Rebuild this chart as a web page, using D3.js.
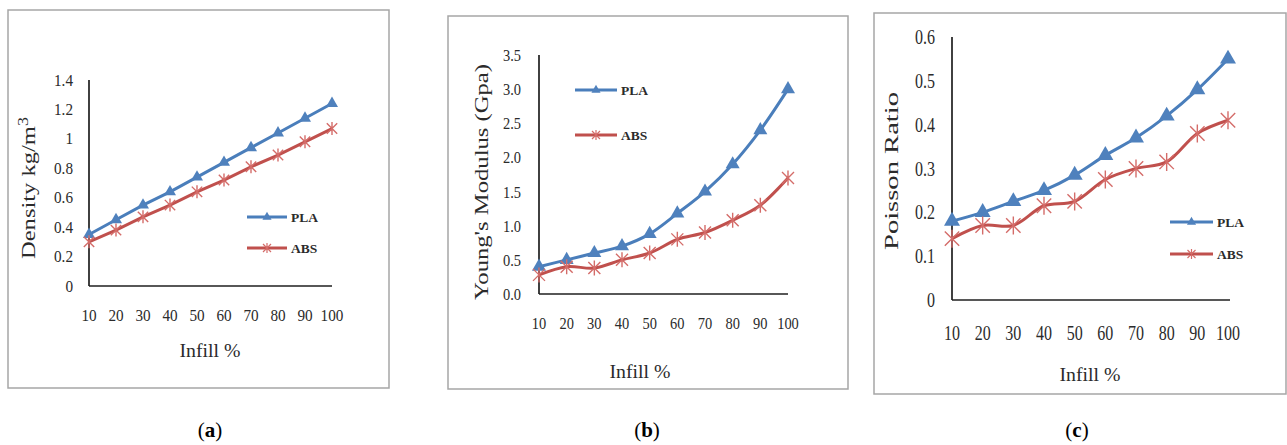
<!DOCTYPE html>
<html>
<head>
<meta charset="utf-8">
<script src="https://cdn.jsdelivr.net/npm/d3@7"></script>
<style>
  html, body { margin: 0; padding: 0; background: #fff; }
  svg { display: block; }
  text { font-family: "Liberation Serif", "DejaVu Serif", serif; fill: #2b2b2b; }
</style>
</head>
<body>
<svg id="fig" width="1287" height="445"></svg>
<script>
// Infill percentage categories shared by all three panels
const infill = ["10", "20", "30", "40", "50", "60", "70", "80", "90", "100"];

// (a) Density
const densityPLA = [0.35, 0.45, 0.55, 0.64, 0.74, 0.84, 0.94, 1.04, 1.14, 1.24];
const densityABS = [0.30, 0.38, 0.47, 0.55, 0.64, 0.72, 0.81, 0.89, 0.98, 1.07];
const densityTicks = [0, 0.2, 0.4, 0.6, 0.8, 1, 1.2, 1.4];

// (b) Young's modulus
const youngPLA = [0.40, 0.50, 0.60, 0.70, 0.88, 1.18, 1.50, 1.90, 2.40, 3.00];
const youngABS = [0.28, 0.40, 0.38, 0.50, 0.60, 0.80, 0.90, 1.08, 1.30, 1.70];
const youngTicks = [0, 0.5, 1.0, 1.5, 2.0, 2.5, 3.0, 3.5];

// (c) Poisson ratio
const poissonPLA = [0.18, 0.20, 0.225, 0.25, 0.285, 0.33, 0.37, 0.42, 0.48, 0.55];
const poissonABS = [0.14, 0.17, 0.17, 0.215, 0.225, 0.275, 0.30, 0.315, 0.38, 0.41];
const poissonTicks = [0, 0.1, 0.2, 0.3, 0.4, 0.5, 0.6];

const seriesNames = ["PLA", "ABS"];
const captions = ["a", "b", "c"];

const BLUE = "#4A7EBB", BLUE_FILL = "#4F81BD";
const RED = "#C0504D", RED_MARK = "#D46C69";

const svg = d3.select("#fig");

const panels = [
  {
    box: [8, 10, 389, 388],
    xRange: [89, 332], yRange: [286, 80], axisRight: 332,
    domain: [0, 1.4], ticks: densityTicks, fmt: d3.format("~g"),
    pla: densityPLA, abs: densityABS,
    yTitle: "Density kg/m", ySup: "3", yTitleX: 35, yTitleY: 188, yTitleLen: 142,
    tickRight: 73, tickSize: 16, tickSX: 0.95, xLabelY: 315, xTitle: [210, 357],
    legend: { x0: 247, x1: 287, y: 217, gap: 31 },
    tri: 12, star: 13, curve: d3.curveLinear, caption: [210, 430]
  },
  {
    box: [448, 16, 848, 389],
    xRange: [539, 788], yRange: [294, 55], axisRight: 788,
    domain: [0, 3.5], ticks: youngTicks, fmt: d3.format(".1f"),
    pla: youngPLA, abs: youngABS,
    yTitle: "Young's Modulus (Gpa)", yTitleX: 488, yTitleY: 182, yTitleLen: 236,
    tickRight: 521, tickSize: 17, tickSX: 0.85, xLabelY: 323, xTitle: [640, 378],
    legend: { x0: 575, x1: 617, y: 90, gap: 45 },
    tri: 14, star: 15, curve: d3.curveCatmullRom, caption: [647, 430]
  },
  {
    box: [874, 13, 1286, 394],
    xRange: [952, 1228], yRange: [300, 37], axisRight: 1230,
    domain: [0, 0.6], ticks: poissonTicks, fmt: d3.format("~g"),
    pla: poissonPLA, abs: poissonABS,
    yTitle: "Poisson Ratio", yTitleX: 898, yTitleY: 171, yTitleLen: 158,
    tickRight: 935, tickSize: 20, tickSX: 0.8, xLabelY: 333, xTitle: [1090, 381],
    legend: { x0: 1170, x1: 1213, y: 222, gap: 32 },
    tri: 16, star: 18, curve: d3.curveCatmullRom, caption: [1077, 430]
  }
];

// Asterisk marker: an X crossed by a vertical stroke
function starPath(s) {
  const h = s / 2, d = h * 0.8;
  return `M${-d},${-d}L${d},${d}M${-d},${d}L${d},${-d}M0,${-h}L0,${h}`;
}

panels.forEach((p, i) => {
  const g = svg.append("g");

  // outer chart frame
  g.append("rect")
    .attr("x", p.box[0]).attr("y", p.box[1])
    .attr("width", p.box[2] - p.box[0]).attr("height", p.box[3] - p.box[1])
    .attr("fill", "#fff").attr("stroke", "#a6a6a6").attr("stroke-width", 1.5);

  const x = d3.scalePoint().domain(infill).range(p.xRange);
  const y = d3.scaleLinear().domain(p.domain).range(p.yRange);

  // axis lines
  g.append("line")
    .attr("x1", p.xRange[0]).attr("x2", p.xRange[0])
    .attr("y1", y(p.domain[1])).attr("y2", y(0))
    .attr("stroke", "#1f1f1f").attr("stroke-width", 1.7);
  g.append("line")
    .attr("x1", p.xRange[0]).attr("x2", p.axisRight)
    .attr("y1", y(0)).attr("y2", y(0))
    .attr("stroke", "#1f1f1f").attr("stroke-width", 1.7);

  // y tick labels (slightly condensed)
  g.selectAll(".ytick").data(p.ticks).join("text")
    .attr("transform", d => `translate(${p.tickRight},${y(d)}) scale(${p.tickSX},1)`)
    .attr("dy", "0.35em").attr("text-anchor", "end")
    .attr("font-size", p.tickSize)
    .text(d => p.fmt(d));

  // x tick labels
  g.selectAll(".xtick").data(infill).join("text")
    .attr("transform", d => `translate(${x(d)},${p.xLabelY}) scale(${p.tickSX},1)`)
    .attr("dy", "0.35em")
    .attr("text-anchor", "middle").attr("font-size", p.tickSize)
    .text(d => d);

  // axis titles
  g.append("text")
    .attr("x", p.xTitle[0]).attr("y", p.xTitle[1])
    .attr("text-anchor", "middle").attr("font-size", 19)
    .attr("textLength", 61).attr("lengthAdjust", "spacingAndGlyphs")
    .text("Infill %");

  const yt = g.append("text")
    .attr("transform", `translate(${p.yTitleX},${p.yTitleY}) rotate(-90)`)
    .attr("text-anchor", "middle").attr("font-size", 19)
    .attr("textLength", p.yTitleLen).attr("lengthAdjust", "spacingAndGlyphs");
  yt.append("tspan").text(p.yTitle);
  if (p.ySup) {
    yt.append("tspan").attr("baseline-shift", "super").attr("font-size", 14).text(p.ySup);
  }

  // series
  const line = d3.line()
    .x((d, k) => x(infill[k]))
    .y(d => y(d))
    .curve(p.curve);

  g.append("path").datum(p.abs)
    .attr("d", line).attr("fill", "none")
    .attr("stroke", RED).attr("stroke-width", 3);
  g.append("path").datum(p.pla)
    .attr("d", line).attr("fill", "none")
    .attr("stroke", BLUE).attr("stroke-width", 3);

  const triSym = d3.symbol().type(d3.symbolTriangle).size(p.tri * p.tri * Math.sqrt(3) / 4);

  g.selectAll(".tri").data(p.pla).join("path")
    .attr("transform", (d, k) => `translate(${x(infill[k])},${y(d)})`)
    .attr("d", triSym).attr("fill", BLUE_FILL);

  g.selectAll(".star").data(p.abs).join("path")
    .attr("transform", (d, k) => `translate(${x(infill[k])},${y(d)})`)
    .attr("d", starPath(p.star)).attr("fill", "none")
    .attr("stroke", RED_MARK).attr("stroke-width", 1.4);

  // legend
  const L = p.legend;
  const mid = (L.x0 + L.x1) / 2;
  seriesNames.forEach((name, k) => {
    const ly = L.y + k * L.gap;
    const col = k === 0 ? BLUE : RED;
    g.append("line").attr("x1", L.x0).attr("x2", L.x1)
      .attr("y1", ly).attr("y2", ly)
      .attr("stroke", col).attr("stroke-width", 3);
    if (k === 0) {
      g.append("path").attr("transform", `translate(${mid},${ly})`)
        .attr("d", d3.symbol().type(d3.symbolTriangle).size(36)).attr("fill", BLUE_FILL);
    } else {
      g.append("path").attr("transform", `translate(${mid},${ly})`)
        .attr("d", starPath(10)).attr("fill", "none")
        .attr("stroke", RED_MARK).attr("stroke-width", 1.2);
    }
    g.append("text").attr("x", L.x1 + 4).attr("y", ly).attr("dy", "0.35em")
      .attr("font-size", 13.5).attr("font-weight", "bold").attr("fill", "#222")
      .text(name);
  });

  // panel caption
  const cap = svg.append("text")
    .attr("x", p.caption[0]).attr("y", p.caption[1])
    .attr("dy", "0.35em").attr("text-anchor", "middle")
    .attr("font-size", 21).style("fill", "#000");
  cap.append("tspan").text("(");
  cap.append("tspan").attr("font-weight", "bold").text(captions[i]);
  cap.append("tspan").text(")");
});
</script>
</body>
</html>
